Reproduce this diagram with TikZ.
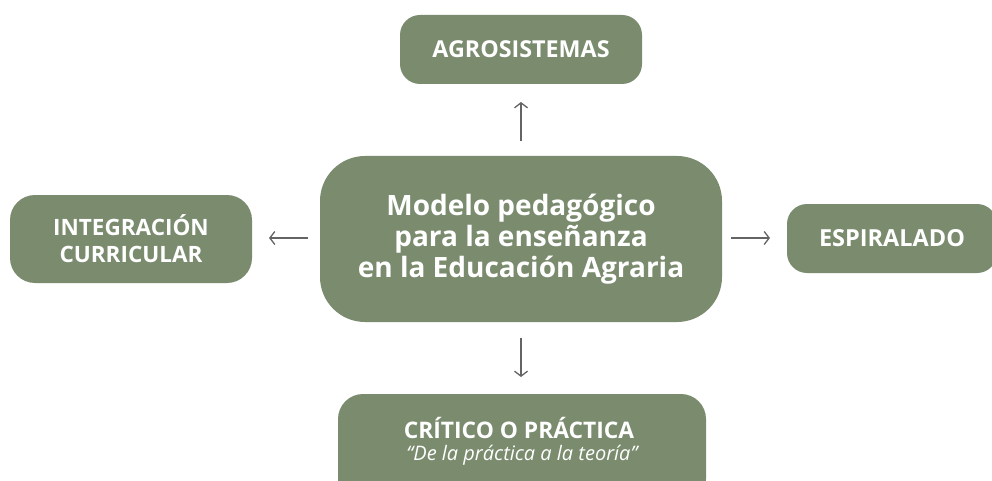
\documentclass[tikz,border=0pt]{standalone}
\usepackage{fontspec}
\setmainfont{Open Sans}
\usetikzlibrary{arrows.meta}
\definecolor{boxgreen}{RGB}{122,139,110}
\definecolor{arrgray}{RGB}{100,100,100}
\tikzset{
  gbox/.style={fill=boxgreen, draw=none, text=white, align=center, font=\bfseries, inner sep=0pt},
  conn/.style={draw=arrgray, line width=1.3pt, -{Straight Barb[length=5pt,width=13pt]}}
}
\begin{document}
\begin{tikzpicture}[x=1pt,y=-1pt]
\useasboundingbox (0,0) rectangle (992,481);
\begin{scope}
\clip (0,0) rectangle (992,481);
\node[gbox, minimum width=242pt, minimum height=69pt, rounded corners=20pt, font=\bfseries\fontsize{23.3}{26}\selectfont] (agro) at (521,49.5) {AGROSISTEMAS};
\node[gbox, minimum width=402pt, minimum height=166pt, rounded corners=45pt, font=\bfseries\fontsize{28}{31}\selectfont] (center) at (521,239) {Modelo pedagógico\\para la enseñanza\\en la Educación Agraria};
\node[gbox, minimum width=242pt, minimum height=88pt, rounded corners=25pt, font=\bfseries\fontsize{22.5}{27}\selectfont] (integ) at (131,239) {INTEGRACIÓN\\CURRICULAR};
\node[gbox, minimum width=210pt, minimum height=69pt, rounded corners=20pt, font=\bfseries\fontsize{23.5}{26}\selectfont] (espir) at (892,238.5) {ESPIRALADO};
\node[gbox, minimum width=368pt, minimum height=110pt, rounded corners=25pt] (crit) at (522,449) {};
\node[text=white, font=\bfseries\fontsize{22.8}{26}\selectfont, inner sep=0pt] (crittitle) at (519,428) {CRÍTICO O PRÁCTICA};
\node[text=white, font=\itshape\fontsize{20}{24}\selectfont, inner sep=0pt] (critsub) at (522,455) {“De la práctica a la teoría”};
\end{scope}
\coordinate (upS) at (521,141);
\coordinate (upE) at (521,102);
\coordinate (dnS) at (521,338);
\coordinate (dnE) at (521,377);
\coordinate (lfS) at (308,238);
\coordinate (lfE) at (269,238);
\coordinate (rtS) at (731,238);
\coordinate (rtE) at (770,238);
\draw[conn] (upS) -- (upE);
\draw[conn] (dnS) -- (dnE);
\draw[conn] (lfS) -- (lfE);
\draw[conn] (rtS) -- (rtE);
\end{tikzpicture}
\end{document}
